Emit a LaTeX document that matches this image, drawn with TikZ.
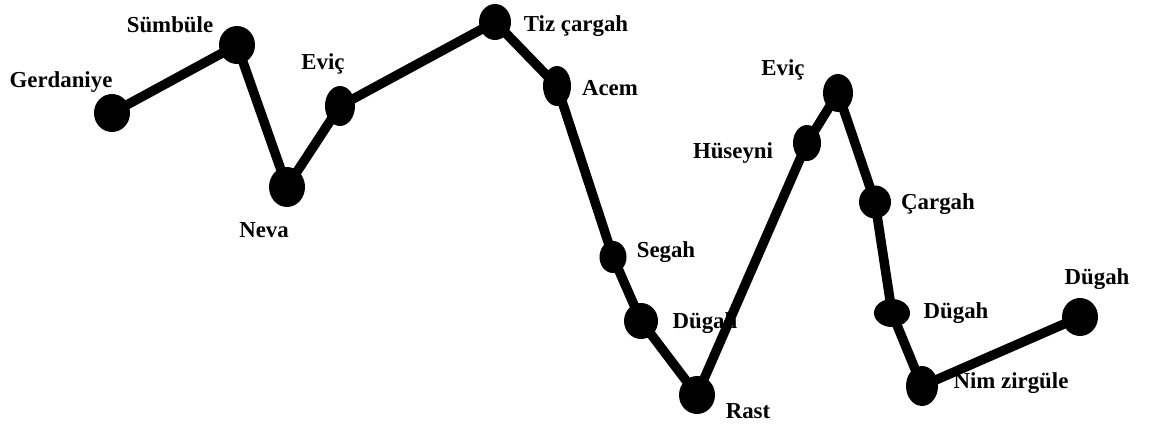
\documentclass[tikz,border=0pt]{standalone}
\usepackage{fontspec}
\setmainfont{Liberation Serif}
\usetikzlibrary{shapes.geometric}
\tikzset{
    dot/.style={ellipse, fill=black, inner sep=0pt, minimum width=#1},
    dot/.default=0.72cm,
    lbl/.style={font=\fontsize{13}{15}\selectfont\bfseries, inner sep=0pt},
    melody/.style={line width=5.4pt, line join=round, line cap=round}
}

\begin{document}
\begin{tikzpicture}[x=0.02cm, y=-0.02cm]
        \useasboundingbox (0,0) rectangle (1149,429);
        \node [dot, minimum height=0.76cm] (gerdaniye) at (112,113) {};
        \node [dot, minimum height=0.76cm] (sumbule) at (237,45) {};
        \node [dot, minimum height=0.8cm] (neva) at (287,187) {};
        \node [dot=0.6cm, minimum height=0.8cm] (evic) at (340,106) {};
        \node [dot=0.64cm, minimum height=0.72cm] (tizcargah) at (495,22) {};
        \node [dot=0.56cm, minimum height=0.8cm] (acem) at (557,86) {};
        \node [dot=0.54cm, minimum height=0.64cm] (segah) at (613,257) {};
        \node [dot=0.68cm, minimum height=0.72cm] (dugah) at (641,321) {};
        \node [dot, minimum height=0.76cm] (rast) at (697,395) {};
        \node [dot=0.56cm, minimum height=0.72cm] (huseyni) at (807,143) {};
        \node [dot=0.6cm, minimum height=0.76cm] (evicb) at (838,93) {};
        \node [dot=0.64cm, minimum height=0.66cm] (cargah) at (875,202) {};
        \node [dot=0.72cm, minimum height=0.56cm] (dugahb) at (892,313) {};
        \node [dot=0.64cm, minimum height=0.8cm] (nimzirgule) at (922,386) {};
        \node [dot, minimum height=0.76cm] (dugahc) at (1080,317) {};

        \node [lbl] (l1) at (61,82) {Gerdaniye};
        \node [lbl] (l2) at (170,25) {Sümbüle};
        \node [lbl] (l3) at (264,230) {Neva};
        \node [lbl] (l4) at (323,64) {Eviç};
        \node [lbl] (l5) at (576,26) {Tiz çargah};
        \node [lbl] (l6) at (610,88) {Acem};
        \node [lbl] (l7) at (666,252) {Segah};
        \node [lbl] (l8) at (705,323) {Dügah};
        \node [lbl] (l9) at (748,411) {Rast};
        \node [lbl] (l10) at (733,153) {Hüseyni};
        \node [lbl] (l11) at (783,70) {Eviç};
        \node [lbl] (l12) at (938,204) {Çargah};
        \node [lbl] (l13) at (956,313) {Dügah};
        \node [lbl] (l14) at (1011,383) {Nim zirgüle};
        \node [lbl] (l15) at (1097,279) {Dügah};

        \draw [melody] (gerdaniye.center) -- (sumbule.center) -- (neva.center) -- (evic.center)
            -- (tizcargah.center) -- (acem.center) -- (segah.center) -- (dugah.center) -- (rast.center)
            -- (huseyni.center) -- (evicb.center) -- (cargah.center) -- (dugahb.center)
            -- (nimzirgule.center) -- (dugahc.center);
    \end{tikzpicture}
\end{document}
